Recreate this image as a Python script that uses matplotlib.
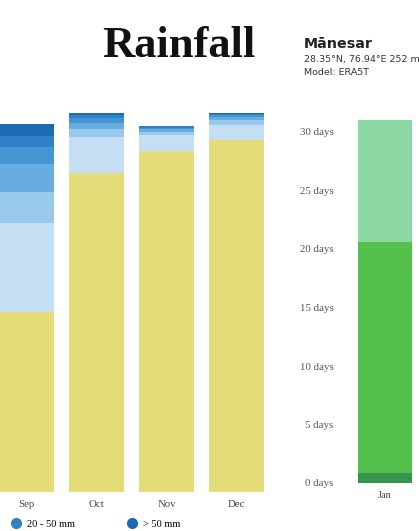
import matplotlib
matplotlib.use("Agg")
import matplotlib.pyplot as plt
from matplotlib.lines import Line2D
import numpy as np

# ---- data ----
months_left = ["Sep", "Oct", "Nov", "Dec"]
amount_classes = ["dry", "< 2 mm", "2 - 5 mm", "5 - 10 mm", "10 - 20 mm", "20 - 50 mm", "> 50 mm"]
days_dry    = [14.7, 26.1, 27.9, 28.8]
days_lt2    = [7.3, 2.9, 1.3, 1.2]
days_2_5    = [2.5, 0.7, 0.25, 0.4]
days_5_10   = [2.3, 0.5, 0.2, 0.25]
days_10_20  = [1.4, 0.35, 0.15, 0.15]
days_20_50  = [0.9, 0.25, 0.1, 0.1]
days_gt50   = [1.0, 0.15, 0.05, 0.05]
amount_colors = ["#e4dc78", "#c4def4", "#98c8ec", "#69ade0", "#4594d4", "#2f82c8", "#1c6bb2"]

months_right = ["Jan"]
right_low  = [0.85]
right_mid  = [19.75]
right_high = [10.4]
right_colors = ["#36954c", "#52c04a", "#8cd8a2"]
right_ticks = [0, 5, 10, 15, 20, 25, 30]

W, H = 419, 531
fig = plt.figure(figsize=(W/100, H/100), dpi=100)

# ---- left panel (precipitation amounts) ----
axL = fig.add_axes([-8.5/W, 39/H, 280/W, 31*12.23/H])
series = [days_dry, days_lt2, days_2_5, days_5_10, days_10_20, days_20_50, days_gt50]
x = np.arange(len(months_left))
bottom = np.zeros(len(months_left))
for vals, col, lab in zip(series, amount_colors, amount_classes):
    axL.bar(x, vals, bottom=bottom, width=0.785, color=col, label=lab, linewidth=0)
    bottom += np.array(vals)
axL.set_xlim(-0.5, 3.5)
axL.set_ylim(0, 31)
for s in axL.spines.values():
    s.set_visible(False)
axL.set_yticks([])
axL.set_xticks(x)
axL.set_xticklabels(months_left, family="Liberation Serif", fontsize=7.8, color="#444444")
axL.tick_params(axis="x", length=0, pad=6)

# ---- right panel ----
axR = fig.add_axes([350/W, 48/H, 70/W, 31*11.7/H])
xr = np.arange(len(months_right))
b = np.zeros(len(months_right))
for vals, col in zip([right_low, right_mid, right_high], right_colors):
    axR.bar(xr, vals, bottom=b, width=0.775, color=col, linewidth=0)
    b += np.array(vals)
axR.set_xlim(-0.5, 0.5)
axR.set_ylim(0, 31)
for s in axR.spines.values():
    s.set_visible(False)
axR.set_yticks(right_ticks)
axR.set_yticklabels([f"{t} days" for t in right_ticks], family="Liberation Serif",
                    fontsize=7.8, color="#555555")
axR.tick_params(axis="y", length=0, pad=12)
axR.set_xticks(xr)
axR.set_xticklabels(months_right, family="Liberation Serif", fontsize=7.5, color="#444444")
axR.tick_params(axis="x", length=0, pad=6)

# ---- titles ----
fig.text(179/W, 1 - 57/H, "Rainfall", family="Liberation Serif", fontweight="bold",
         fontsize=32, ha="center", va="baseline", color="#111111")
fig.text(304/W, 1 - 48/H, "Mānesar", family="DejaVu Sans", fontweight="bold",
         fontsize=10.3, ha="left", va="baseline", color="#222222")
fig.text(304/W, 1 - 62/H, "28.35°N, 76.94°E 252 m", family="DejaVu Sans",
         fontsize=6.8, ha="left", va="baseline", color="#333333")
fig.text(304/W, 1 - 75/H, "Model: ERA5T", family="DejaVu Sans",
         fontsize=6.8, ha="left", va="baseline", color="#333333")

# ---- legend ----
handles = [Line2D([], [], marker="o", linestyle="", markersize=7, color=amount_colors[5]),
           Line2D([], [], marker="o", linestyle="", markersize=7, color=amount_colors[6])]
fig.legend(handles, ["20 - 50 mm", "> 50 mm"], loc="center left",
           bbox_to_anchor=(5/W, 1 - 524/H), ncol=2, frameon=False,
           prop={"family": "Liberation Serif", "size": 7.5}, handletextpad=0.5,
           columnspacing=5.0, handlelength=1.0, borderpad=0.1)

fig.savefig("out.png", dpi=100)
